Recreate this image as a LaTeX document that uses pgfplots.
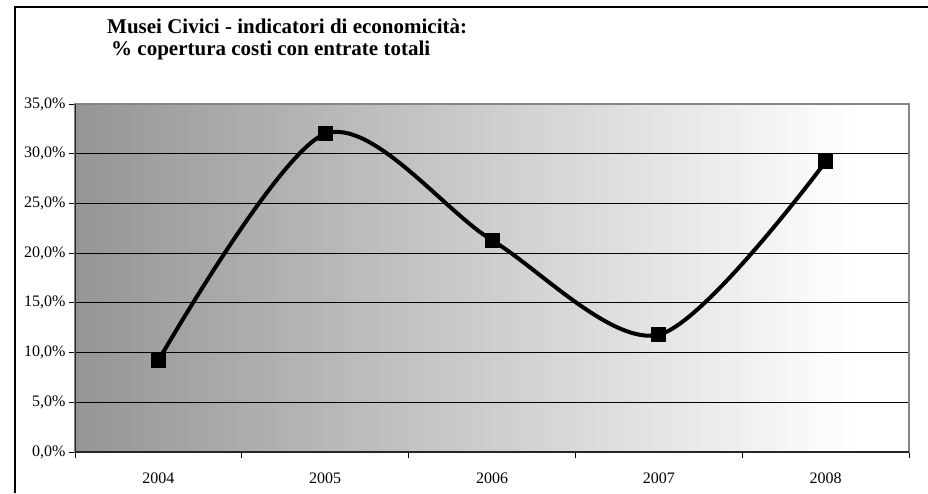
\documentclass[border=0pt]{standalone}
\usepackage{fontspec}
\setmainfont{Liberation Serif}
\usepackage{pgfplots}
\pgfplotsset{compat=1.18}
\definecolor{bgL}{HTML}{959595}
\definecolor{frameGray}{HTML}{858585}
% gradient ends at ~94% of plot width, white after
\pgfdeclarehorizontalshading{plotbg}{100bp}{color(0bp)=(bgL); color(25bp)=(bgL); color(71.8bp)=(white); color(100bp)=(white)}

\begin{document}
\begin{tikzpicture}[x=1pt,y=1pt]
\path[use as bounding box] (0,0) rectangle (928,493);
\draw[line width=1.5pt] (15,0) -- (15,486) -- (928,486);
\node[anchor=base west, inner sep=0pt, font=\fontsize{21}{24}\selectfont\bfseries] at (107,459) {Musei Civici - indicatori di economicità:};
\node[anchor=base west, inner sep=0pt, font=\fontsize{21}{24}\selectfont\bfseries] at (111,437) {\% copertura costi con entrate totali};
\coordinate (origin) at (75,41);
\begin{axis}[
    at={(origin)}, anchor=south west,
    scale only axis, width=834pt, height=348pt,
    xmin=-0.5, xmax=4.5, ymin=0, ymax=35,
    axis background/.style={shading=plotbg},
    axis line style={draw=frameGray, line width=1.5pt},
    xtick={-0.5,0.5,1.5,2.5,3.5,4.5},
    x tick label as interval,
    xticklabels={2004,2005,2006,2007,2008},
    ytick={0,5,...,35},
    yticklabels={{0,0\%},{5,0\%},{10,0\%},{15,0\%},{20,0\%},{25,0\%},{30,0\%},{35,0\%}},
    xtick pos=left, ytick pos=left,
    tick align=outside, major tick length=6pt,
    tick style={black, line width=1pt},
    ticklabel style={font=\fontsize{16}{19}\selectfont},
    xticklabel style={yshift=-11pt},
    ymajorgrids, major grid style={black, line width=0.8pt},
  ]
  \addplot[black, line width=4pt, smooth, tension=0.5, mark=square*,
    mark size=7pt, mark options={solid, line width=0pt}]
    coordinates {(0,9.2) (1,32.0) (2,21.3) (3,11.8) (4,29.2)};
  \draw[black!85, line width=1.5pt] (rel axis cs:0,1) -- (rel axis cs:0,0) -- (rel axis cs:1,0);
\end{axis}
\end{tikzpicture}
\end{document}
